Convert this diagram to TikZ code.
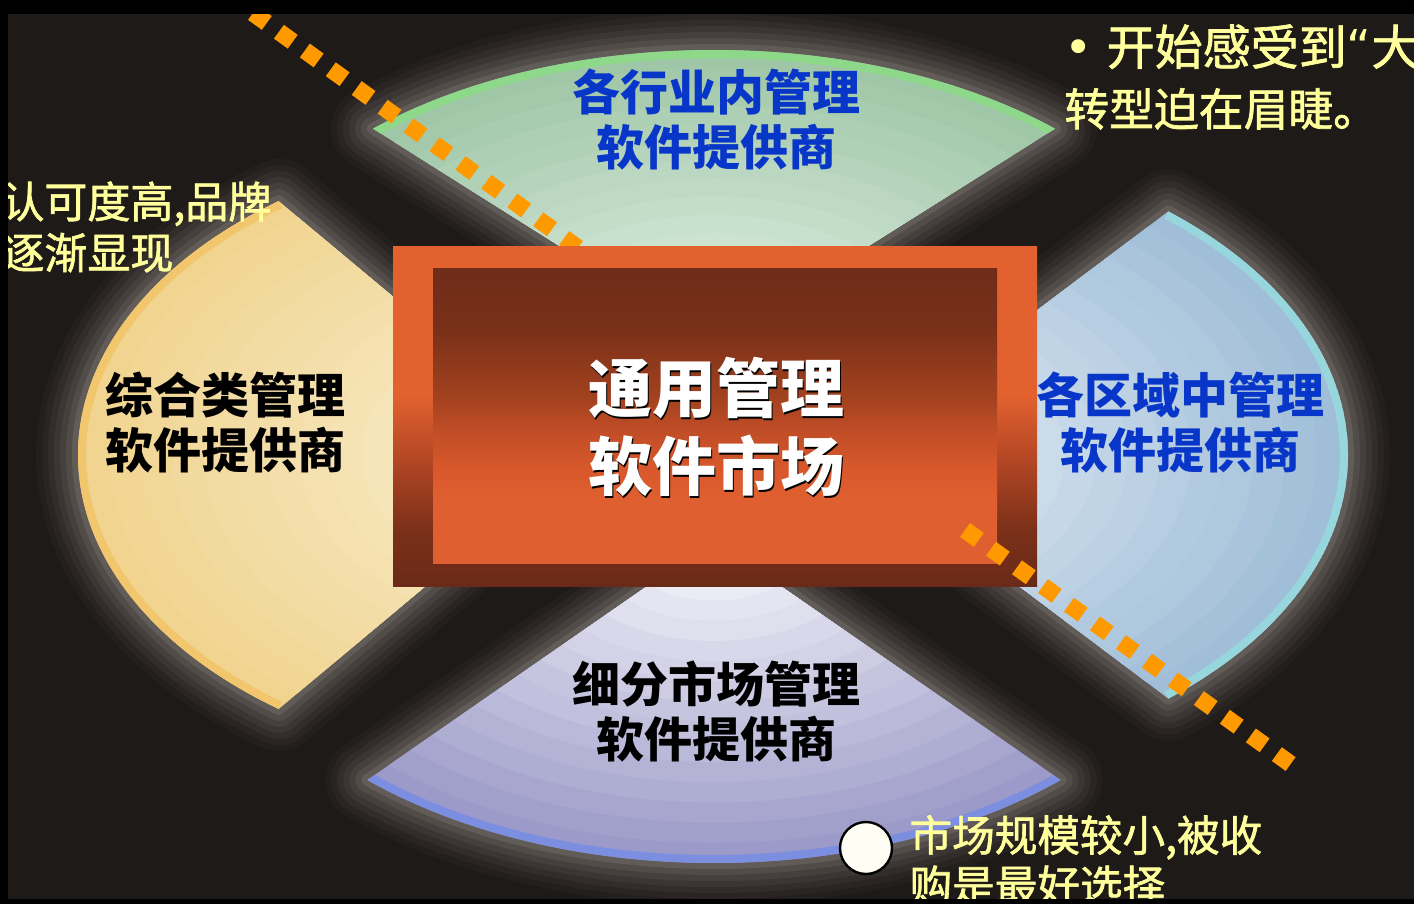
\documentclass[tikz,border=0pt]{standalone}
\usepackage{fontspec}
\setmainfont{Noto Sans CJK SC}
\newfontfamily\notefont{Noto Sans CJK SC}[FakeBold=1.5]
\newfontfamily\symfont{DejaVu Sans}
\usetikzlibrary{positioning}

\definecolor{bgdark}{HTML}{1E1A17}
\definecolor{glowgrey}{HTML}{D6D0CA}
\definecolor{dashorange}{HTML}{FF9900}
\definecolor{textblue}{HTML}{0836C8}
\definecolor{noteyellow}{HTML}{FFFF9C}
\definecolor{greenrim}{HTML}{8ED88A}
\definecolor{greenout}{HTML}{9FC6A6}
\definecolor{greenin}{HTML}{E4F2E8}
\definecolor{bluerim}{HTML}{98D6DE}
\definecolor{blueout}{HTML}{A0BED8}
\definecolor{bluein}{HTML}{E6EEF6}
\definecolor{lilacrim}{HTML}{7C8EE0}
\definecolor{lilacout}{HTML}{9C9AC8}
\definecolor{lilacin}{HTML}{F8F8FC}
\definecolor{sandrim}{HTML}{F2C66C}
\definecolor{sandout}{HTML}{F0D490}
\definecolor{sandin}{HTML}{FAF0D4}
\definecolor{framehi}{HTML}{E2612F}
\definecolor{framemid}{HTML}{B04524}
\definecolor{framedeep}{HTML}{7A3019}
\definecolor{framelo}{HTML}{6A2A17}
\definecolor{panelhi}{HTML}{E05F30}
\definecolor{panelmidA}{HTML}{D8582C}
\definecolor{panelmidB}{HTML}{C04D27}
\definecolor{panelmidC}{HTML}{A3421F}
\definecolor{paneltop}{HTML}{6E2C19}

\pgfdeclareverticalshading{framefill}{100bp}{color(0bp)=(framelo); color(25bp)=(framelo);
  color(33bp)=(framedeep); color(43bp)=(framemid); color(53bp)=(framehi); color(100bp)=(framehi)}
\pgfdeclareverticalshading{panelfill}{100bp}{color(0bp)=(panelhi); color(36bp)=(panelhi);
  color(41bp)=(panelmidA); color(47.5bp)=(panelmidB); color(53bp)=(panelmidC);
  color(64.5bp)=(framedeep); color(75bp)=(paneltop); color(100bp)=(paneltop)}

\tikzstyle{lbl} = [font=\fontsize{24}{27.5}\selectfont\bfseries, align=center, inner sep=0pt]
\tikzstyle{note} = [font=\notefont\fontsize{21.5}{25.5}\selectfont, text=noteyellow, align=left, inner sep=0pt, anchor=west]

\newcommand{\fanpath}[6]{(#1,#2) -- ++(#5:{#3} and {#4}) arc[start angle=#5, end angle=#6, x radius=#3, y radius=#4] -- cycle}

\begin{document}
\begin{tikzpicture}[x=0.5pt, y=0.5pt,
			dotline/.style = {dashorange, line width=8.5pt, dash pattern=on 8.5pt off 7.5pt},
			glow/.style = {glowgrey, line join=round}]
			\clip (0,0) rectangle (1414,-904);
			\fill[bgdark] (0,0) rectangle (1414,-904);
			
			% halo round the four fans
			\foreach \ax/\ay/\rx/\ry/\ta/\tb in {714/-343/500/293/47/133, 845/-455/503/318/-50/50,
					714/-540/518/323/228/312, 582/-455/504/318/127/233}
				\foreach \w/\o in {84/0.03, 72/0.04, 60/0.05, 48/0.06, 36/0.07, 24/0.09, 12/0.12}
					\draw[glow, line width=\w*0.5pt, opacity=\o] \fanpath{\ax}{\ay}{\rx}{\ry}{\ta}{\tb};
			
			% the fans themselves
			\foreach \ax/\ay/\rx/\ry/\ta/\tb/\cr/\co/\ci in {714/-343/500/293/47/133/greenrim/greenout/greenin,
					845/-455/503/318/-50/50/bluerim/blueout/bluein,
					714/-540/518/323/228/312/lilacrim/lilacout/lilacin,
					582/-455/504/318/127/233/sandrim/sandout/sandin} {
				\begin{scope}
					\clip \fanpath{\ax}{\ay}{\rx}{\ry}{\ta}{\tb};
					\foreach \k in {0,...,15} {
						\pgfmathtruncatemacro\p{100*\k/15}
						\pgfmathsetmacro\s{1-\k/16}
						\fill[\ci!\p!\co] (\ax,\ay) ellipse [x radius=\rx*\s, y radius=\ry*\s];
					}
					\draw[\cr, line width=8pt] (\ax,\ay) ++(\ta:{\rx} and {\ry}) arc[start angle=\ta, end angle=\tb, x radius=\rx, y radius=\ry];
				\end{scope}
			}
			
			\coordinate (d1s) at (253,-13);
			\coordinate (d1e) at (578,-248);
			\draw[dotline] (d1s) -- (d1e);
			
			\node (frame) [rectangle, shade, shading=framefill, minimum width=322pt, minimum height=170pt, inner sep=0pt] at (715,-416) {};
			\node (panel) [rectangle, shade, shading=panelfill, minimum width=282pt, minimum height=147.5pt, inner sep=0pt] at (715,-415.5) {};
			\node (mktshadow) [lbl, font=\fontsize{32}{39}\selectfont\bfseries, text=black] at (717.5,-428.5) {通用管理\\软件市场};
			\node (mkt) [lbl, font=\fontsize{32}{39}\selectfont\bfseries, text=white] at (716,-427) {通用管理\\软件市场};
			
			\node (industry) [lbl, text=textblue] at (716,-120) {各行业内管理\\软件提供商};
			\node (region) [lbl, text=textblue] at (1180,-423) {各区域中管理\\软件提供商};
			\node (general) [lbl, text=black] at (225,-423) {综合类管理\\软件提供商};
			\node (niche) [lbl, text=black] at (716,-711) {细分市场管理\\软件提供商};
			
			\coordinate (d2s) at (965,-530);
			\coordinate (d2e) at (1292,-765);
			\draw[dotline] (d2s) -- (d2e);
			
			\node (brandnote) [note] at (1,-227) {认可度高,品牌\\逐渐显现};
			\node (transnote) [note, font=\notefont\fontsize{22.4}{30.5}\selectfont] at (1064,-77) {{\fontsize{24}{30.5}\selectfont{\symfont •}\hspace{7pt}开始感受到{\symfont “}大}\\转型迫在眉睫。};
			\node (bulletdot) [circle, draw=black, line width=1.2pt, fill=white!96!yellow, minimum size=26pt, inner sep=0pt] at (866,-848) {};
			\node (acqnote) [note, font=\notefont\fontsize{21.3}{25}\selectfont, right=8pt of bulletdot, yshift=-6pt] {市场规模较小,被收\\购是最好选择};
			
			\fill[black] (0,0) rectangle (1414,-14);
			\fill[black] (0,0) rectangle (8,-904);
			\fill[black] (0,-899) rectangle (1414,-904);
		\end{tikzpicture}
\end{document}
